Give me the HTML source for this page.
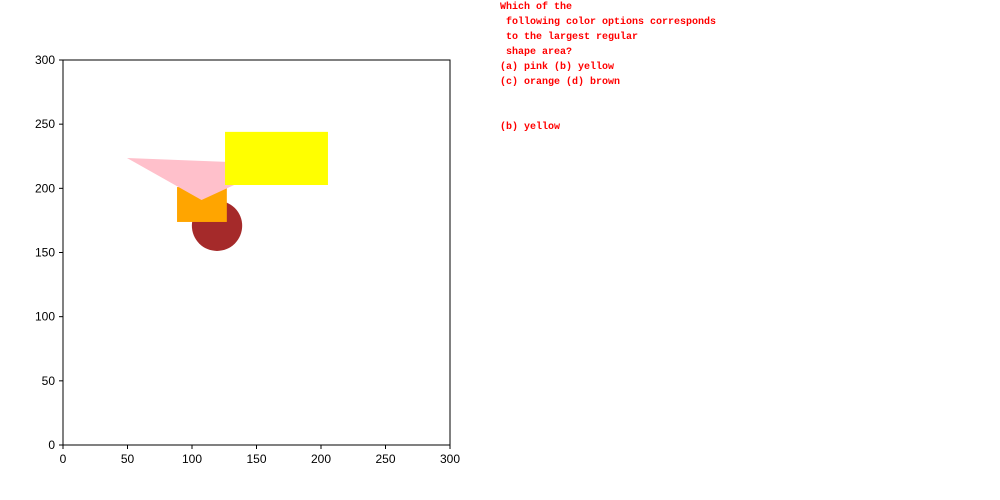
<!DOCTYPE html>
<html><head><meta charset="utf-8"><style>
body{margin:0;background:#fff;width:1000px;height:500px;overflow:hidden;position:relative;font-family:"Liberation Sans",sans-serif}
#q{position:absolute;left:500px;top:0px;font:bold 10px/15px "Liberation Mono",monospace;color:#f00;white-space:pre;margin:0}
</style></head><body>
<svg width="1000" height="500" style="position:absolute;left:0;top:0">
<g id="shapes"></g>
<rect x="63" y="60" width="387" height="385" fill="none" stroke="#000" stroke-width="1"/>
<g id="ticks" font-size="12" font-family="Liberation Sans, sans-serif"></g>
</svg>
<pre id="q">Which of the
 following color options corresponds
 to the largest regular
 shape area?
(a) pink (b) yellow
(c) orange (d) brown


(b) yellow</pre>
<script>
const xTicks=[0,50,100,150,200,250,300];
const yTicks=[0,50,100,150,200,250,300];
const circleBrown=[119.4,170.8,19.5];
const rectOrange=[88.4,173.8,38.6,27.2];
const triPink=[[49.6,223.6],[168.2,219],[107.4,190.9]];
const rectYellow=[125.6,202.6,79.8,41.4];
const X=v=>63+v*387/300, Y=v=>445-v*385/300;
const NS="http://www.w3.org/2000/svg";
const g=document.getElementById('shapes'), t=document.getElementById('ticks');
function mk(tag,a,p){const e=document.createElementNS(NS,tag);for(const k in a)e.setAttribute(k,a[k]);p.appendChild(e);return e;}
let e;
e=mk('circle',{cx:X(circleBrown[0]),cy:Y(circleBrown[1]),r:circleBrown[2]*387/300,fill:'#a52a2a'},g);


e=mk('rect',{x:X(rectOrange[0]),y:Y(rectOrange[1]+rectOrange[3]),width:rectOrange[2]*387/300,height:rectOrange[3]*385/300,fill:'#ffa500'},g);


e=mk('polygon',{points:triPink.map(p=>X(p[0])+','+Y(p[1])).join(' '),fill:'#ffc0cb'},g);


e=mk('rect',{x:X(rectYellow[0]),y:Y(rectYellow[1]+rectYellow[3]),width:rectYellow[2]*387/300,height:rectYellow[3]*385/300,fill:'#ffff00'},g);


xTicks.forEach(v=>{
 e=mk('line',{x1:X(v),x2:X(v),y1:445,y2:449,stroke:'#000'},t);
 
 
 e=mk('text',{x:X(v),y:463,'text-anchor':'middle'},t);e.textContent=v;
 
 
});
yTicks.forEach(v=>{
 e=mk('line',{x1:59,x2:63,y1:Y(v),y2:Y(v),stroke:'#000'},t);
 
 
 e=mk('text',{x:55,y:Y(v)+4,'text-anchor':'end'},t);e.textContent=v;
 
 
});
</script>
</body></html>
